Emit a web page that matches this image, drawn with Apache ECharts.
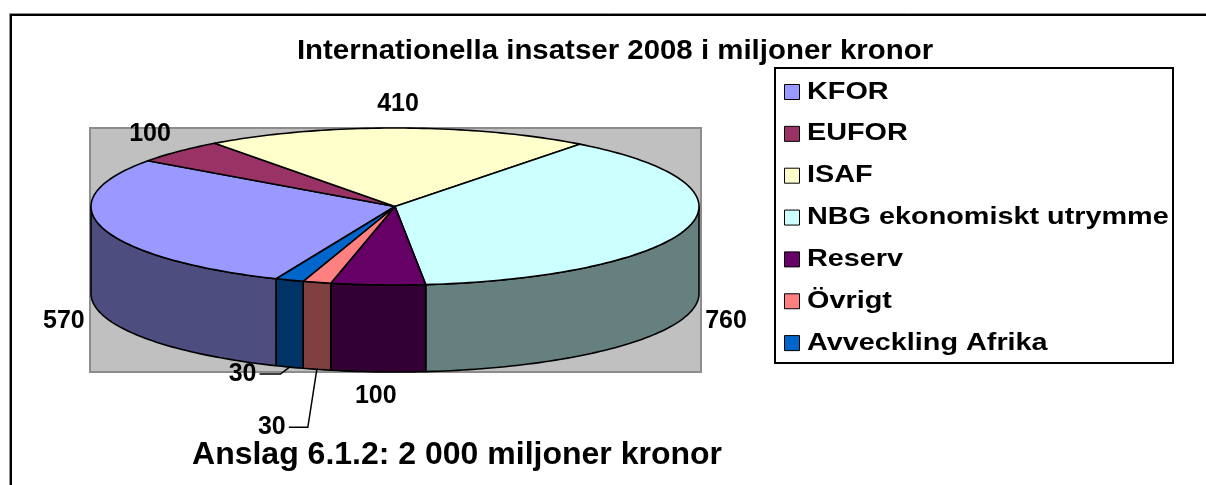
<!DOCTYPE html>
<html><head><meta charset="utf-8">
<script src="https://cdn.jsdelivr.net/npm/echarts@6/dist/echarts.min.js"></script>
<style>html,body{margin:0;padding:0;background:#fff}#c{width:1206px;height:485px}</style>
</head><body><div id="c"></div>
<script>
// ---- data ----
const categories = ['KFOR', 'EUFOR', 'ISAF', 'NBG ekonomiskt utrymme', 'Reserv', 'Övrigt', 'Avveckling Afrika'];
const values = [570, 100, 410, 760, 100, 30, 30];
const titleText = 'Internationella insatser 2008 i miljoner kronor';
const subtitleText = 'Anslag 6.1.2: 2 000 miljoner kronor';

// ---- styles ----
const topColors = ['#9999FF', '#993366', '#FFFFCC', '#CCFFFF', '#660066', '#FF8080', '#0066CC'];
const sideColors = ['#4D4D80', '#4D1A33', '#808066', '#668080', '#330033', '#804040', '#003366'];
const FONT = '"Liberation Sans", Arial, sans-serif';

// ---- layout ----
const PIE = { cx: 395, cy: 206.5, rx: 304, ry: 78.5, depth: 87, start: 113 };
const LABEL_GAP = { x: 40, y: 24 };
const LEADER_LABELS = { 5: { dx: -45, dy: 58 }, 6: { dx: -47, dy: 7 } };

const total = values.reduce((a, b) => a + b, 0);
const angles = [];
(function () {
  let acc = PIE.start;
  values.forEach(v => { const a0 = acc; acc += v / total * 360; angles.push([a0, acc]); });
})();

function pt(deg, dz, kx, ky) {
  const r = deg * Math.PI / 180;
  return [PIE.cx + (PIE.rx + (kx || 0)) * Math.cos(r), PIE.cy + (PIE.ry + (ky || 0)) * Math.sin(r) + dz];
}
function arc(a0, a1, dz) {
  const n = Math.max(2, Math.ceil(Math.abs(a1 - a0) / 1.2));
  const out = [];
  for (let i = 0; i <= n; i++) out.push(pt(a0 + (a1 - a0) * i / n, dz));
  return out;
}
function txt(text, x, y, size, align, extra) {
  return Object.assign({
    type: 'text',
    style: {
      text: text, x: x, y: y,
      font: 'bold ' + size + 'px ' + FONT,
      fontSize: size, fontWeight: 'bold', fontFamily: FONT,
      fill: '#000',
      textAlign: align, align: align,
      textVerticalAlign: 'middle', verticalAlign: 'middle'
    }
  }, extra || {});
}

function renderItem(params, api) {
  const i = params.dataIndex;
  const a0 = angles[i][0], a1 = angles[i][1];
  const children = [];
  // front side wall (visible half: 0..180 deg, screen-clockwise)
  [0, 360].forEach(k => {
    const lo = Math.max(a0, k), hi = Math.min(a1, k + 180);
    if (hi > lo) {
      const pts = arc(lo, hi, 0).concat(arc(hi, lo, PIE.depth));
      children.push({ type: 'polygon', shape: { points: pts },
        style: { fill: sideColors[i], stroke: '#000', lineWidth: 1.6, lineJoin: 'round' } });
    }
  });
  // top face
  children.push({ type: 'polygon', shape: { points: [[PIE.cx, PIE.cy]].concat(arc(a0, a1, 0)) },
    style: { fill: topColors[i], stroke: '#000', lineWidth: 1.6, lineJoin: 'round' } });
  // label
  const mid = (a0 + a1) / 2;
  const s = Math.sin(mid * Math.PI / 180);
  const label = String(api.value(0));
  if (LEADER_LABELS[i]) {
    const e = pt(mid, PIE.depth);
    const tx = e[0] + LEADER_LABELS[i].dx, ty = e[1] + LEADER_LABELS[i].dy;
    children.push({ type: 'polyline', shape: { points: [e, [e[0] - 9, ty], [tx + 17, ty]] },
      style: { stroke: '#000', lineWidth: 1.5, fill: null } });
    children.push(txt(label, tx, ty, 25, 'center'));
  } else {
    const p = pt(mid, s > 0 ? PIE.depth : 0, LABEL_GAP.x, LABEL_GAP.y);
    children.push(txt(label, p[0], p[1], 25, 'center'));
  }
  return { type: 'group', children: children };
}

// legend built from categories
const LEG = { x: 775, y: 68, w: 398, h: 295, firstY: 92, step: 41.85 };
const legendEls = [{ type: 'rect', shape: { x: LEG.x, y: LEG.y, width: LEG.w, height: LEG.h },
  style: { fill: '#fff', stroke: '#000', lineWidth: 2 }, z: 1 }];
categories.forEach((c, i) => {
  const y = LEG.firstY + i * LEG.step;
  legendEls.push({ type: 'rect', shape: { x: 784.5, y: y - 7.5, width: 15, height: 15 },
    style: { fill: topColors[i], stroke: '#000', lineWidth: 1 }, z: 2 });
  legendEls.push(Object.assign(txt(c, 0, 0, 24, 'left'), { x: 807, y: y, scaleX: 1.2, z: 2 }));
});

const chart = echarts.init(document.getElementById('c'), null, { renderer: 'canvas' });
chart.setOption({
  animation: false,
  backgroundColor: '#fff',
  graphic: [
    // outer chart frame (only top and left edges fall inside the picture)
    { type: 'rect', shape: { x: 9.5, y: 13.5, width: 1300, height: 600 }, style: { fill: null, stroke: '#909090', lineWidth: 1 }, z: 0 },
    { type: 'rect', shape: { x: 11, y: 15, width: 1300, height: 600 }, style: { fill: null, stroke: '#000', lineWidth: 2 }, z: 0 },
    // plot area
    { type: 'rect', shape: { x: 90, y: 128, width: 611, height: 244 }, style: { fill: '#C0C0C0', stroke: '#8c8c8c', lineWidth: 2 }, z: 0 },
    Object.assign(txt(titleText, 0, 0, 27, 'center'), { x: 615, y: 51.5, scaleX: 1.09, z: 3 }),
    Object.assign(txt(subtitleText, 0, 0, 32, 'center'), { x: 457, y: 455, z: 3 })
  ].concat(legendEls),
  series: [{
    type: 'custom',
    coordinateSystem: 'none',
    z: 5,
    silent: true,
    renderItem: renderItem,
    data: values.map((v, i) => ({ name: categories[i], value: [v] }))
  }]
});
</script></body></html>
